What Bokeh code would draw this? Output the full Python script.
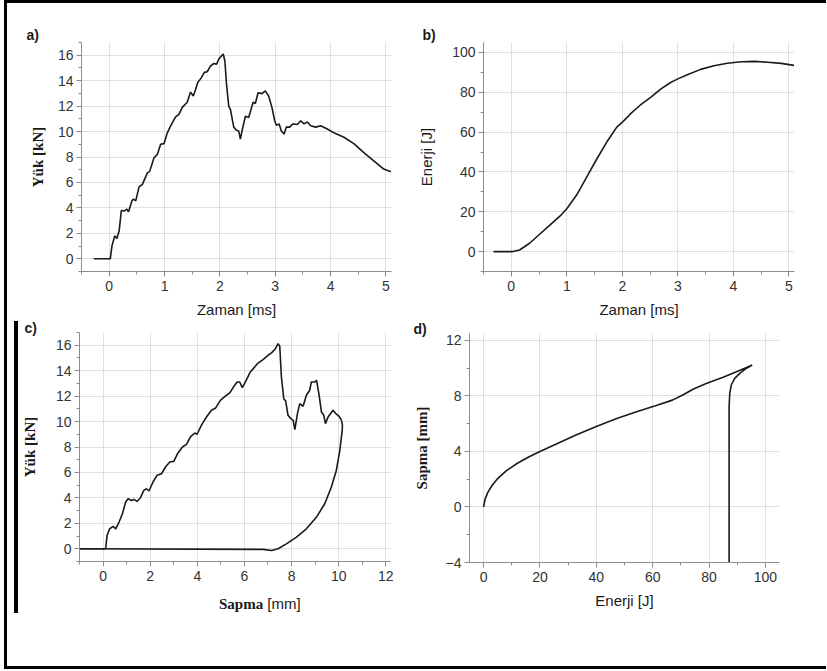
from bokeh.plotting import figure
from bokeh.models import Range1d, SingleIntervalTicker, Spacer, Title, Div
from bokeh.layouts import row, column
from bokeh.embed import file_html
from bokeh.resources import INLINE

# ---------------- data ----------------
# a) load vs time
time_a = [-0.28, 0.02, 0.05, 0.10, 0.14, 0.18, 0.22, 0.27, 0.32, 0.35, 0.41, 0.44, 0.48, 0.54,
          0.60, 0.69, 0.73, 0.81, 0.87, 0.93, 0.99, 1.05, 1.11, 1.20, 1.26, 1.32, 1.41, 1.47,
          1.52, 1.56, 1.60, 1.66, 1.72, 1.77, 1.83, 1.89, 1.94, 1.98, 2.06, 2.09, 2.12, 2.16,
          2.19, 2.25, 2.30, 2.34, 2.37, 2.40, 2.46, 2.52, 2.60, 2.64, 2.69, 2.76, 2.82, 2.88,
          2.94, 2.99, 3.02, 3.07, 3.11, 3.16, 3.20, 3.26, 3.32, 3.40, 3.46, 3.52, 3.58, 3.64,
          3.73, 3.82, 3.94, 4.06, 4.24, 4.42, 4.60, 4.78, 4.96, 5.09]
load_a = [0, 0, 1.0, 1.8, 1.6, 2.2, 3.8, 3.75, 3.9, 3.7, 4.55, 4.7, 4.55, 5.65,
          5.85, 6.75, 6.85, 7.95, 8.2, 9.0, 9.05, 9.9, 10.45, 11.15, 11.35, 11.9, 12.3, 13.1,
          12.8, 13.3, 13.85, 14.2, 14.65, 14.7, 15.15, 15.35, 15.3, 15.7, 16.1, 15.55, 13.7, 12.0,
          11.75, 10.35, 10.1, 10.05, 9.4, 10.05, 11.2, 11.1, 12.3, 12.2, 13.05, 12.98, 13.2, 12.8,
          11.9, 10.85, 10.5, 10.6, 10.05, 9.8, 10.35, 10.35, 10.6, 10.55, 10.85, 10.6, 10.75, 10.45,
          10.35, 10.45, 10.2, 9.9, 9.55, 9.05, 8.35, 7.7, 7.05, 6.85]

# b) energy vs time
time_b = [-0.32, 0.03, 0.15, 0.33, 0.51, 0.69, 0.88, 1.00, 1.18, 1.36, 1.54, 1.72, 1.90, 2.02,
          2.14, 2.32, 2.51, 2.69, 2.87, 2.99, 3.17, 3.41, 3.65, 3.89, 4.14, 4.38, 4.62, 4.86, 5.09]
energy_b = [0, 0, 0.8, 4.2, 8.7, 13.2, 17.9, 21.5, 28.5, 37.5, 46.5, 55.0, 62.5, 65.5,
            69.0, 73.5, 77.4, 81.6, 84.9, 86.6, 88.8, 91.5, 93.3, 94.6, 95.3, 95.5, 95.1, 94.5, 93.5]

# c) load vs deflection (loading branch, then rebound branch)
defl_c_load = [-1.0, 0.11, 0.17, 0.28, 0.42, 0.54, 0.68, 0.82, 0.96, 1.06, 1.20, 1.32, 1.44, 1.58,
               1.73, 1.84, 1.95, 2.12, 2.29, 2.48, 2.65, 2.83, 3.00, 3.18, 3.37, 3.54, 3.71, 3.89,
               3.99, 4.17, 4.39, 4.60, 4.78, 4.98, 5.24, 5.38, 5.52, 5.69, 5.80, 5.91, 6.08, 6.25,
               6.44, 6.58, 6.79, 7.00, 7.15, 7.29, 7.43, 7.50, 7.57, 7.67, 7.75, 7.85, 7.97, 8.07,
               8.14, 8.25, 8.35, 8.49, 8.63, 8.77, 8.84, 8.99, 9.06, 9.17, 9.27, 9.37, 9.44, 9.55,
               9.65, 9.76, 9.88, 10.02, 10.12]
load_c_load = [0, 0, 1.05, 1.57, 1.76, 1.57, 2.1, 2.75, 3.67, 3.93, 3.8, 3.88, 3.72, 3.99,
               4.59, 4.72, 4.54, 5.25, 5.77, 5.9, 6.43, 6.82, 6.87, 7.53, 8.0, 8.21, 8.79, 9.1,
               9.0, 9.7, 10.36, 10.89, 11.07, 11.67, 12.07, 12.25, 12.67, 13.11, 13.11, 12.67, 13.25, 13.9,
               14.3, 14.6, 14.87, 15.21, 15.4, 15.66, 16.13, 15.92, 13.5, 11.8, 11.62, 10.49, 10.23, 10.1,
               9.36, 10.62, 11.41, 11.2, 12.07, 12.46, 13.11, 13.11, 13.25, 12.07, 10.75, 10.49, 9.84, 10.36,
               10.62, 10.89, 10.62, 10.41, 10.1]
defl_c_rebound = [10.12, 10.16, 10.15, 10.05, 9.90, 9.69, 9.41, 9.06, 8.63, 8.21, 7.78, 7.43, 7.15, 6.79, -1.0]
load_c_rebound = [10.1, 9.7, 9.31, 7.74, 6.16, 4.85, 3.54, 2.49, 1.57, 0.92, 0.39, 0.0, -0.13, -0.05, 0.0]

# d) deflection vs energy
energy_d = [0, 0.5, 1.5, 3.0, 5.0, 8.0, 12.0, 16.0, 20.0, 26.0, 33.0, 40.0, 47.0, 54.0, 61.0,
            67.0, 70.5, 74.5, 79.0, 85.0, 89.7, 93.3, 95.3, 93.3, 90.9, 89.1, 87.9, 87.35, 87.12, 87.12]
defl_d = [0, 0.55, 1.05, 1.55, 2.05, 2.6, 3.15, 3.6, 4.0, 4.55, 5.2, 5.8, 6.35, 6.85, 7.3,
          7.7, 8.05, 8.5, 8.9, 9.35, 9.75, 10.05, 10.23, 10.0, 9.63, 9.27, 8.79, 8.19, 7.23, -5.0]

SANS = "Liberation Sans"
SERIF = "Liberation Serif"
INK = "#1a1a1a"
AXIS = "#8c8c8c"
GRID = "#c9bdbd"


def make_fig(w, h, bl, br, bt, bb, xr, yr, xint, yint, tag, tag_offset, tag_standoff):
    p = figure(width=w, height=h, x_range=Range1d(*xr), y_range=Range1d(*yr),
               output_backend="svg", toolbar_location=None,
               min_border_left=bl, min_border_right=br, min_border_top=bt, min_border_bottom=bb)
    p.title = Title(text=tag, align="left", offset=tag_offset, standoff=tag_standoff,
                    text_font=SANS, text_font_style="bold", text_font_size="14px",
                    text_color=INK)
    p.outline_line_color = None
    p.background_fill_color = "white"
    p.border_fill_color = "white"
    p.xaxis.ticker = SingleIntervalTicker(interval=xint, num_minor_ticks=2)
    p.yaxis.ticker = SingleIntervalTicker(interval=yint, num_minor_ticks=2)
    for ax in p.axis:
        ax.axis_line_color = AXIS
        ax.axis_line_width = 1
        ax.major_tick_line_color = AXIS
        ax.minor_tick_line_color = AXIS
        ax.major_tick_in = 0
        ax.major_tick_out = 5
        ax.minor_tick_in = 0
        ax.minor_tick_out = 3
        ax.major_label_text_font = SANS
        ax.major_label_text_font_size = "14px"
        ax.major_label_text_color = "#333333"
        ax.axis_label_text_color = INK
        ax.axis_label_text_font_size = "15px"
    p.xaxis.major_label_standoff = 4
    p.yaxis.major_label_standoff = 3
    p.xaxis.axis_label_standoff = 7
    p.grid.grid_line_color = GRID
    p.grid.grid_line_dash = "1 1"
    p.grid.grid_line_width = 1
    return p


def set_ylabel(p, text, serif_bold, standoff):
    p.yaxis.axis_label = text
    p.yaxis.axis_label_standoff = standoff
    if serif_bold:
        p.yaxis.axis_label_text_font = SERIF
        p.yaxis.axis_label_text_font_style = "bold"
    else:
        p.yaxis.axis_label_text_font = SANS
        p.yaxis.axis_label_text_font_style = "normal"


def set_xlabel(p, text):
    p.xaxis.axis_label = text
    p.xaxis.axis_label_text_font = SANS
    p.xaxis.axis_label_text_font_style = "normal"


# a)
fa = make_fig(403, 317, 74, 19, 39, 49, (-0.5, 5.1), (-1, 17), 1, 2, "a)", -55, 0)
fa.line(time_a, load_a, line_color=INK, line_width=1.6)
set_ylabel(fa, "Yük [kN]", True, 9)
set_xlabel(fa, "Zaman [ms]")

# b)
fb = make_fig(416, 317, 73, 32, 39, 49, (-0.5, 5.1), (-10, 105), 1, 20, "b)", -61, 0)
fb.line(time_b, energy_b, line_color=INK, line_width=1.6)
set_ylabel(fb, "Enerji [J]", False, 14)
set_xlabel(fb, "Zaman [ms]")

# c)
fc = make_fig(392, 270, 61, 20, 12, 29, (-1, 12.2), (-1, 17), 2, 2, "c)", -55, -6)
fc.line(defl_c_load, load_c_load, line_color=INK, line_width=1.6)
fc.line(defl_c_rebound, load_c_rebound, line_color=INK, line_width=1.6)
set_ylabel(fc, "Yük [kN]", True, 15)
xlabel_c = Div(
    width=392, height=76, margin=0,
    text=('<div style="padding:3px 0 0 201px; white-space:nowrap; '
          'font-family:\'Liberation Sans\'; font-size:15px; color:#1a1a1a;">'
          '<span style="font-family:\'Liberation Serif\'; font-weight:bold;">Sapma</span>'
          ' [mm]</div>'),
)

# d)
fd = make_fig(416, 346, 59, 47, 13, 104, (-5, 105), (-4, 12.5), 20, 4, "d)", -56, -6)
fd.line(energy_d, defl_d, line_color=INK, line_width=1.6)
set_ylabel(fd, "Sapma [mm]", True, 13)
set_xlabel(fd, "Enerji [J]")

BLACK = {"background-color": "black"}
bar = column(Spacer(width=4, height=1), Spacer(width=4, height=292, styles=BLACK))
content = column(
    row(fa, fb),
    row(Spacer(width=7, height=346), bar, column(fc, xlabel_c), fd),
)
root = column(
    Spacer(width=822, height=3, styles=BLACK),
    row(Spacer(width=3, height=663, styles=BLACK), content),
    Spacer(width=822, height=3, styles=BLACK),
    styles={"position": "absolute", "left": "4px", "top": "0px"},
)

open("out.html", "w").write(file_html(root, INLINE))
